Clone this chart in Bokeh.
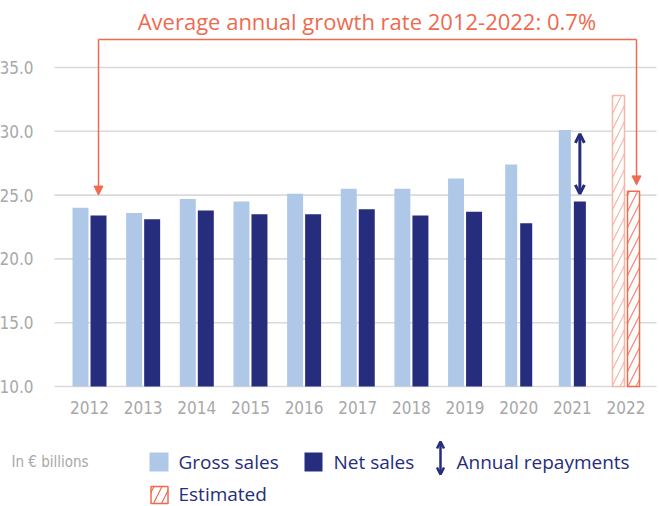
from bokeh.plotting import figure
from bokeh.models import (Range1d, FixedTicker, PrintfTickFormatter, Arrow,
                          NormalHead, OpenHead, ColumnDataSource, LinearAxis)
from bokeh.core.properties import value
from bokeh.embed import file_html
from bokeh.resources import INLINE

# ---------------- data ----------------
years = [2012, 2013, 2014, 2015, 2016, 2017, 2018, 2019, 2020, 2021, 2022]
gross_sales = [24.0, 23.6, 24.7, 24.5, 25.1, 25.5, 25.5, 26.3, 27.4, 30.1, 32.8]
net_sales = [23.4, 23.1, 23.8, 23.5, 23.5, 23.9, 23.4, 23.7, 22.8, 24.5, 25.3]
estimated = [False, False, False, False, False, False, False, False, False, False, True]
y_ticks = [10, 15, 20, 25, 30, 35]
growth_label = "Average annual growth rate 2012-2022: 0.7%"
unit_label = "In € billions"
legend_labels = ["Gross sales", "Net sales", "Annual repayments", "Estimated"]
repayment_year = 2021

# ---------------- styles ----------------
BLUE_L = "#B0C8E8"
NAVY = "#262D7D"
ORANGE = "#EF6A4F"
ORANGE_L = "#F6B6A8"
GREY = "#A8A8A8"
GRID = "#DADADA"
MAIN_FONT = "Open Sans"
NARROW_FONT = "DejaVu Sans Condensed"

W, H = 659, 506
PX_X = 53.65          # pixels per year
PX_Y = 12.76          # pixels per unit
bar_w = [0.298 if y < 2020 else 0.224 for y in years]
offs = [0.168 if y < 2020 else 0.14 for y in years]


def make_source(sel):
    idx = [i for i in range(len(years)) if estimated[i] == sel]
    return ColumnDataSource(dict(
        xg=[years[i] - offs[i] for i in idx],
        xn=[years[i] + offs[i] for i in idx],
        gross=[gross_sales[i] for i in idx],
        net=[net_sales[i] for i in idx],
        w=[bar_w[i] for i in idx],
    ))


actual_src = make_source(False)
est_src = make_source(True)

xs = years[0] - 89 / PX_X
y_top = y_ticks[0] + 386 / PX_Y
p = figure(width=W, height=H,
           x_range=Range1d(xs, xs + W / PX_X),
           y_range=Range1d(y_top - H / PX_Y, y_top),
           output_backend="svg", toolbar_location=None,
           x_axis_location=None, y_axis_location=None,
           min_border_left=0, min_border_right=0,
           min_border_top=0, min_border_bottom=0)
p.outline_line_color = None
p.background_fill_color = "white"
p.border_fill_color = "white"
p.grid.visible = False
# a second pair of ranges in page pixels, used for the legend row
p.extra_x_ranges = {"px": Range1d(0, W)}
p.extra_y_ranges = {"px": Range1d(H, 0)}

plot_left = xs + 54 / PX_X
plot_right = xs + 656 / PX_X
plot_bottom = y_ticks[0] - 3 / PX_Y

# grid lines
p.segment(x0=[plot_left] * len(y_ticks), x1=[plot_right] * len(y_ticks),
          y0=y_ticks, y1=y_ticks, line_color=GRID, line_width=1.6)

base = y_ticks[0]
p.vbar(x="xg", top="gross", bottom=base, width="w", source=actual_src,
       fill_color=BLUE_L, line_color=None)
p.vbar(x="xn", top="net", bottom=base, width="w", source=actual_src,
       fill_color=NAVY, line_color=None)
p.vbar(x="xg", top="gross", bottom=base, width="w", source=est_src,
       fill_color="white", line_color=ORANGE_L, line_width=1.5,
       hatch_pattern="/", hatch_color=ORANGE_L, hatch_scale=16, hatch_weight=1.2)
p.vbar(x="xn", top="net", bottom=base, width="w", source=est_src,
       fill_color="white", line_color=ORANGE, line_width=1.5,
       hatch_pattern="/", hatch_color="#F2866F", hatch_scale=16, hatch_weight=1.2)

# axes (fixed inside the canvas)
yax = LinearAxis(fixed_location=plot_left, ticker=FixedTicker(ticks=y_ticks),
                 formatter=PrintfTickFormatter(format="%.1f"))
xax = LinearAxis(fixed_location=plot_bottom, ticker=FixedTicker(ticks=years),
                 formatter=PrintfTickFormatter(format="%d"))
for ax in (xax, yax):
    ax.axis_line_color = None
    ax.major_tick_line_color = None
    ax.minor_tick_line_color = None
    ax.major_label_text_color = GREY
    ax.major_label_text_font = NARROW_FONT
    ax.major_label_text_font_size = "17px"
yax.major_label_standoff = 15
xax.major_label_standoff = 5
p.add_layout(yax, "left")
p.add_layout(xax, "below")

# growth annotation
left_x = years[0] + offs[0]
right_x = years[-1] + 0.196
line_y = 37.19
p.line([left_x, right_x], [line_y, line_y], line_color=ORANGE, line_width=1.5)
p.add_layout(Arrow(end=NormalHead(size=9, fill_color=ORANGE, line_color=ORANGE),
                   x_start=left_x, y_start=line_y, x_end=left_x, y_end=25.0,
                   line_color=ORANGE, line_width=1.5))
p.add_layout(Arrow(end=NormalHead(size=9, fill_color=ORANGE, line_color=ORANGE),
                   x_start=right_x, y_start=line_y, x_end=right_x,
                   y_end=net_sales[-1] + 0.5,
                   line_color=ORANGE, line_width=1.5))
p.text(x=[(years[0] + years[-1]) / 2 + 0.17], y=[38.68], text=[growth_label],
       text_font=value(MAIN_FONT), text_font_size="22px", text_color=ORANGE,
       text_align="center", text_baseline="middle")

# repayments arrow
ri = years.index(repayment_year)
rx = years[ri] + offs[ri]
p.add_layout(Arrow(start=OpenHead(size=9, line_color=NAVY, line_width=3),
                   end=OpenHead(size=9, line_color=NAVY, line_width=3),
                   x_start=rx, y_start=gross_sales[ri] - 0.3,
                   x_end=rx, y_end=net_sales[ri] + 0.6,
                   line_color=NAVY, line_width=3))

# ---------------- legend (page-pixel range) ----------------
px = dict(x_range_name="px", y_range_name="px")
p.rect(x=[158.5], y=[461.5], width=19, height=19, fill_color=BLUE_L,
       line_color=None, **px)
p.rect(x=[313], y=[461.5], width=18, height=19, fill_color=NAVY,
       line_color=None, **px)
p.rect(x=[159], y=[494.5], width=17, height=17, fill_color="white", line_color=ORANGE,
       line_width=1.5, hatch_pattern="/", hatch_color=ORANGE, hatch_scale=16,
       hatch_weight=1.2, **px)
p.add_layout(Arrow(start=OpenHead(size=7, line_color=NAVY, line_width=2.5),
                   end=OpenHead(size=7, line_color=NAVY, line_width=2.5),
                   x_start=440, y_start=441, x_end=440, y_end=474,
                   line_color=NAVY, line_width=2.5, **px))
p.text(x=[178, 333, 456, 178], y=[461.5, 461.5, 461.5, 493.5], text=legend_labels,
       text_font=value(MAIN_FONT), text_font_size="19px",
       text_color=NAVY, text_align="left", text_baseline="middle", **px)
p.text(x=[11], y=[461.5], text=[unit_label], text_font=value(NARROW_FONT),
       text_font_size="15px", text_color=GREY, text_align="left",
       text_baseline="middle", **px)

open("out.html", "w").write(file_html(p, INLINE))
